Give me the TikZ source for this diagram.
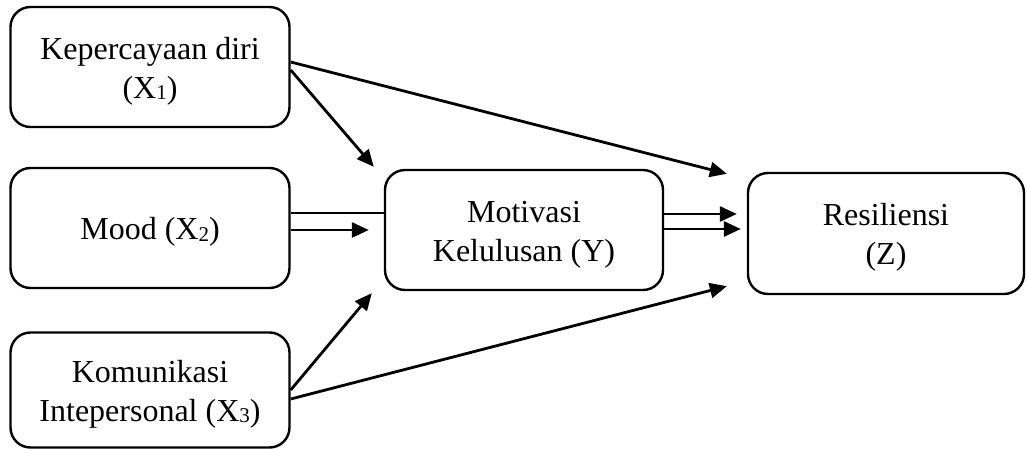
\documentclass[tikz,border=0pt]{standalone}
\usepackage{fontspec}
\setmainfont{Liberation Serif}
\usetikzlibrary{arrows.meta}
\newcommand{\sbs}[1]{\raisebox{-1.5pt}{\fontsize{21}{21}\selectfont #1}}
\newcommand{\bt}[1]{\raisebox{-4pt}[\height][\depth]{\begin{tabular}{@{}c@{}}#1\end{tabular}}}
\begin{document}
\begin{tikzpicture}[x=1pt,y=-1pt,
  box/.style={draw=black,line width=2.4pt,rounded corners=20pt,
    font=\fontsize{32}{39}\selectfont,inner sep=0pt},
  arr/.style={line width=2.8pt,-{Triangle[length=17pt,width=15pt]}},
  ln/.style={line width=2.8pt}]
\useasboundingbox (0,0) rectangle (1027,449);
\node[box,minimum width=279pt,minimum height=120pt] (x1) at (150,67) {\bt{Kepercayaan diri\\(X\sbs{1})}};
\node[box,minimum width=279pt,minimum height=120pt] (x2) at (150,228) {\bt{Mood (X\sbs{2})}};
\node[box,minimum width=279pt,minimum height=115pt] (x3) at (150,390) {\bt{Komunikasi\\Intepersonal (X\sbs{3})}};
\node[box,minimum width=278pt,minimum height=120pt] (y) at (524,230) {\bt{Motivasi\\Kelulusan (Y)}};
\node[box,minimum width=276pt,minimum height=121pt] (z) at (886,233.5) {\bt{Resiliensi\\(Z)}};
% X1
\draw[arr] ([yshift=5pt]x1.east) -- ([shift={(-20pt,-2pt)}]z.north west);
\draw[arr] ([yshift=-3pt]x1.east) -- ([shift={(-10pt,2pt)}]y.north west);
% X2
\coordinate (m1) at ([yshift=15pt]x2.east -| y.west);
\draw[ln] ([yshift=15pt]x2.east) -- (m1);
\draw[arr] ([yshift=-2pt]x2.east) -- ([xshift=-15pt]y.west);
% Y -> Z
\coordinate (t1) at ([yshift=16pt]y.east -| z.west);
\coordinate (t2) at ([yshift=1pt]y.east -| z.west);
\draw[arr] ([yshift=16pt]y.east) -- ([xshift=-10pt]t1);
\draw[arr] ([yshift=1pt]y.east) -- ([xshift=-6pt]t2);
% X3
\draw[arr] (x3.east) -- ([shift={(-12pt,-2pt)}]y.south west);
\draw[arr] ([yshift=-9pt]x3.east) -- ([shift={(-20pt,9pt)}]z.south west);
\end{tikzpicture}
\end{document}
